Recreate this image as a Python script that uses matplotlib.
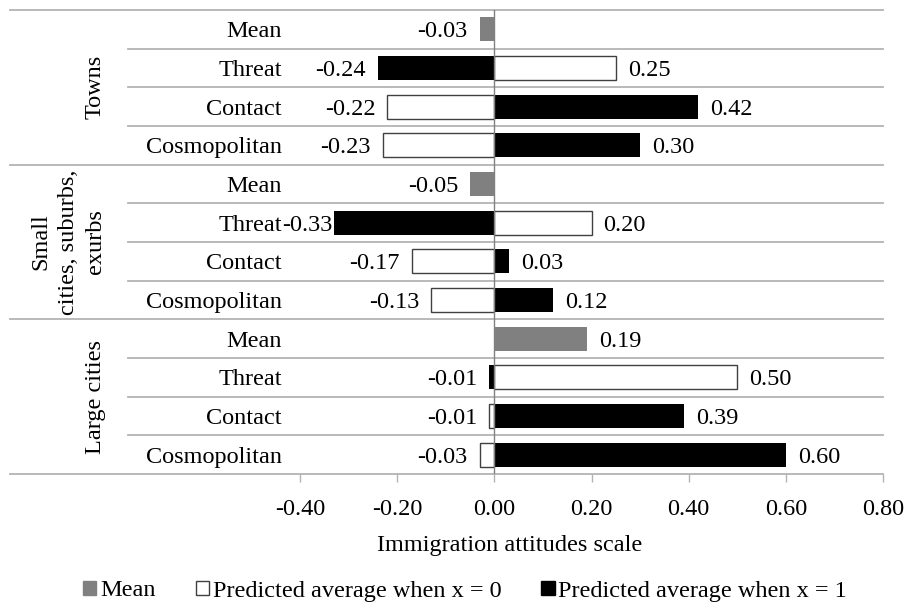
import numpy as np
import matplotlib
matplotlib.use("Agg")
import matplotlib.pyplot as plt
from matplotlib.patches import Patch

# data
groups = ["Towns", "Small\ncities, suburbs,\nexurbs", "Large cities"]
rows = ["Mean", "Threat", "Contact", "Cosmopolitan"]
mean_vals = [-0.03, -0.05, 0.19]
# Threat, Contact, Cosmopolitan for each group
x0_vals = [[0.25, -0.22, -0.23],
           [0.20, -0.17, -0.13],
           [0.50, -0.01, -0.03]]
x1_vals = [[-0.24, 0.42, 0.30],
           [-0.33, 0.03, 0.12],
           [-0.01, 0.39, 0.60]]
xticks = [-0.4, -0.2, 0.0, 0.2, 0.4, 0.6, 0.8]

plt.rcParams['font.family'] = ['Liberation Serif', 'DejaVu Serif']
fs = 17.5

W, H = 908, 605
fig = plt.figure(figsize=(W / 100, H / 100), dpi=100)
ax = fig.add_axes([300 / W, 1 - 474 / H, 583 / W, 464 / H])

grey = '#808080'
line_c = '#b3b3b3'
bh = 0.62
xmin, xmax = -0.4, 0.8


def label(v, y):
    # excel keeps the label inside the plot area, so it hugs long negative bars
    off = 12 if v >= 0 or v - xmin > 0.1 else 2
    ax.annotate("%.2f" % v, (v, y), xytext=(np.sign(v + 1e-9) * off * 0.72, 0),
                textcoords='offset points', ha='left' if v >= 0 else 'right',
                va='center_baseline', fontsize=fs)


ylabels = []
for g in range(len(groups)):
    base = g * 4
    ax.barh(base + 0.5, mean_vals[g], height=bh, color=grey, zorder=3)
    label(mean_vals[g], base + 0.5)
    for k in range(3):
        y = base + 1.5 + k
        ax.barh(y, x0_vals[g][k], height=bh, color='white', edgecolor='#404040', linewidth=1, zorder=3)
        ax.barh(y, x1_vals[g][k], height=bh, color='black', zorder=3)
        label(x0_vals[g][k], y)
        label(x1_vals[g][k], y)
    ylabels += rows

ax.set_xlim(xmin, xmax)
ax.set_ylim(12, 0)
ax.set_yticks(np.arange(12) + 0.5)
ax.set_yticklabels(ylabels, fontsize=fs, va='center_baseline')
ax.tick_params(axis='y', length=0, pad=13)
ax.set_xticks(xticks)
ax.set_xticklabels(["%.2f" % t for t in xticks], fontsize=fs)
ax.tick_params(axis='x', length=6, width=1, color=line_c, pad=12)
for s in ax.spines.values():
    s.set_visible(False)

# row and group separator lines reaching into the label area
trans = matplotlib.transforms.blended_transform_factory(fig.transFigure, ax.transData)
for r in range(13):
    x_start = 10 / W if r % 4 == 0 else 128 / W
    ax.plot([x_start, 883 / W], [r, r], color=line_c, lw=1.3, transform=trans,
            clip_on=False, zorder=1)
ax.axvline(0, color=grey, lw=1, zorder=4)

# group labels
for g, name in enumerate(groups):
    yc = 1 - (10 + (g * 4 + 2) * 464 / 12) / H
    fig.text(106 / W, yc, name, rotation=90, ha='right', va='center',
             multialignment='center', fontsize=fs, linespacing=1.4)

fig.text(510 / W, 1 - 546 / H, "Immigration attitudes scale", ha='center', va='center', fontsize=fs)

handles = [Patch(facecolor=grey, edgecolor=grey),
           Patch(facecolor='white', edgecolor='#404040'),
           Patch(facecolor='black', edgecolor='black')]
fig.legend(handles, ["Mean", "Predicted average when x = 0", "Predicted average when x = 1"],
           loc='center', bbox_to_anchor=(465 / W, 1 - 591 / H), ncol=3, frameon=False,
           fontsize=fs, handlelength=0.55, handleheight=0.55, handletextpad=0.15,
           columnspacing=1.65, borderaxespad=0)

fig.savefig("out.png", dpi=100)
